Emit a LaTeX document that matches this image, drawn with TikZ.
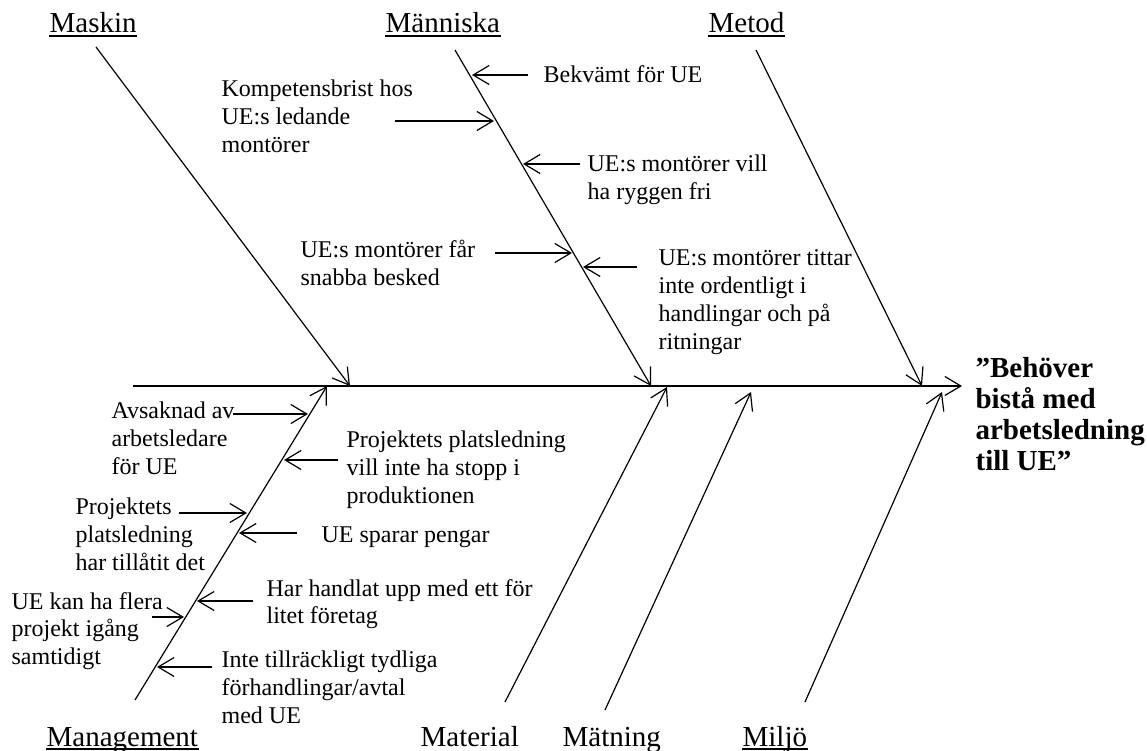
\documentclass[tikz,border=0pt]{standalone}
\usepackage{fontspec}
\setmainfont{Liberation Serif}
\usetikzlibrary{arrows.meta}
\begin{document}
\begin{tikzpicture}[x=1pt,y=-1pt,line width=1.2pt,
  barb/.style={-{Straight Barb[length=16pt,width=19pt]}},
  cause/.style={anchor=north west,inner sep=0pt,align=left,
    font=\fontsize{24}{27.8}\selectfont},
  head/.style={anchor=base west,inner sep=0pt,font=\fontsize{29}{31}\selectfont},
  effect/.style={anchor=north west,inner sep=0pt,align=left,
    font=\fontsize{29}{31}\selectfont\bfseries},
  uline/.style={line width=1.5pt}]
\useasboundingbox (0,0) rectangle (1147,751);

% category headings
\node[head] (hMaskin)   at (49,33)   {Maskin};
\node[head] (hManniska) at (385,33)  {Människa};
\node[head] (hMetod)    at (708,33)  {Metod};
\node[head] (hMgmt)     at (46,746)  {Management};
\node[head] (hMaterial) at (420,746) {Material};
\node[head] (hMatning)  at (562,746) {Mätning};
\node[head] (hMiljo)    at (742,746) {Miljö};
\foreach \h in {hMaskin,hManniska,hMetod,hMgmt,hMiljo}
  \draw[uline] ([yshift=-3pt]\h.base west) -- ([yshift=-3pt]\h.base east);

% effect
\node[effect] (eff) at (975,357) {”Behöver\\bistå med\\arbetsledning\\till UE”};

% spine and category bones
\coordinate (sp0) at (133,386);  \coordinate (sp1) at (962,386);
\coordinate (mk0) at (96,47);    \coordinate (mk1) at (350,386);
\coordinate (mn0) at (455,50);   \coordinate (mn1) at (651,386);
\coordinate (mt0) at (756,50);   \coordinate (mt1) at (922,386);
\coordinate (mg0) at (135,700);  \coordinate (mg1) at (327,386);
\coordinate (ma0) at (505,702);  \coordinate (ma1) at (667,387);
\coordinate (mä0) at (605,710);  \coordinate (mä1) at (751,392);
\coordinate (mi0) at (805,702);  \coordinate (mi1) at (942,392);
\draw[barb] (sp0) -- (sp1);
\draw[barb] (mk0) -- (mk1);
\draw[barb] (mn0) -- (mn1);
\draw[barb] (mt0) -- (mt1);
\draw[barb] (mg0) -- (mg1);
\draw[barb] (ma0) -- (ma1);
\draw[barb] (mä0) -- (mä1);
\draw[barb] (mi0) -- (mi1);

% causes: Människa
\node[cause] (cKomp) at (221,79.5)  {Kompetensbrist hos\\UE:s ledande\\montörer};
\node[cause] (cBekv) at (543,65.5)  {Bekvämt för UE};
\node[cause] (cVill) at (587,154.5) {UE:s montörer vill\\ha ryggen fri};
\node[cause] (cFar)  at (300,239.5) {UE:s montörer får\\snabba besked};
\node[cause] (cTitt) at (658,249.5) {UE:s montörer tittar\\inte ordentligt i\\handlingar och på\\ritningar};

% causes: Management
\node[cause] (cAvs)     at (111,401.5) {Avsaknad av\\arbetsledare\\för UE};
\node[cause] (cStopp)   at (346,430.5) {Projektets platsledning\\vill inte ha stopp i\\produktionen};
\node[cause] (cTillat)  at (75,497.5)  {Projektets\\platsledning\\har tillåtit det};
\node[cause] (cSparar)  at (321,526.5) {UE sparar pengar};
\node[cause] (cHandlat) at (266,578.5) {Har handlat upp med ett för\\litet företag};
\node[cause] (cFlera)   at (11,591.5)  {UE kan ha flera\\projekt igång\\samtidigt};
\node[cause] (cAvtal)   at (221,650.5) {Inte tillräckligt tydliga\\förhandlingar/avtal\\med UE};

% cause arrows
\coordinate (aBekS) at (528,75);     \coordinate (aBekT) at (472,75);
\coordinate (aKompS) at (395,121);   \coordinate (aKompT) at (494,121);
\coordinate (aVillS) at (580,164);   \coordinate (aVillT) at (523,164);
\coordinate (aFarS) at (495,253);    \coordinate (aFarT) at (572,253);
\coordinate (aTittS) at (637,267);   \coordinate (aTittT) at (583,267);
\coordinate (aAvsS) at (233,414);    \coordinate (aAvsT) at (308,414);
\coordinate (aStoppS) at (338,460);  \coordinate (aStoppT) at (284,460);
\coordinate (aTillatS) at (179,513); \coordinate (aTillatT) at (247,513);
\coordinate (aSpararS) at (297,533); \coordinate (aSpararT) at (239,533);
\coordinate (aHandlatS) at (253,601);\coordinate (aHandlatT) at (197,601);
\coordinate (aFleraS) at (152,617);  \coordinate (aFleraT) at (184,617);
\coordinate (aAvtalS) at (212,667);  \coordinate (aAvtalT) at (157,667);
\foreach \a in {Bek,Komp,Vill,Far,Titt,Avs,Stopp,Tillat,Sparar,Handlat,Flera,Avtal}
  \draw[barb] (a\a S) -- (a\a T);
\end{tikzpicture}
\end{document}
